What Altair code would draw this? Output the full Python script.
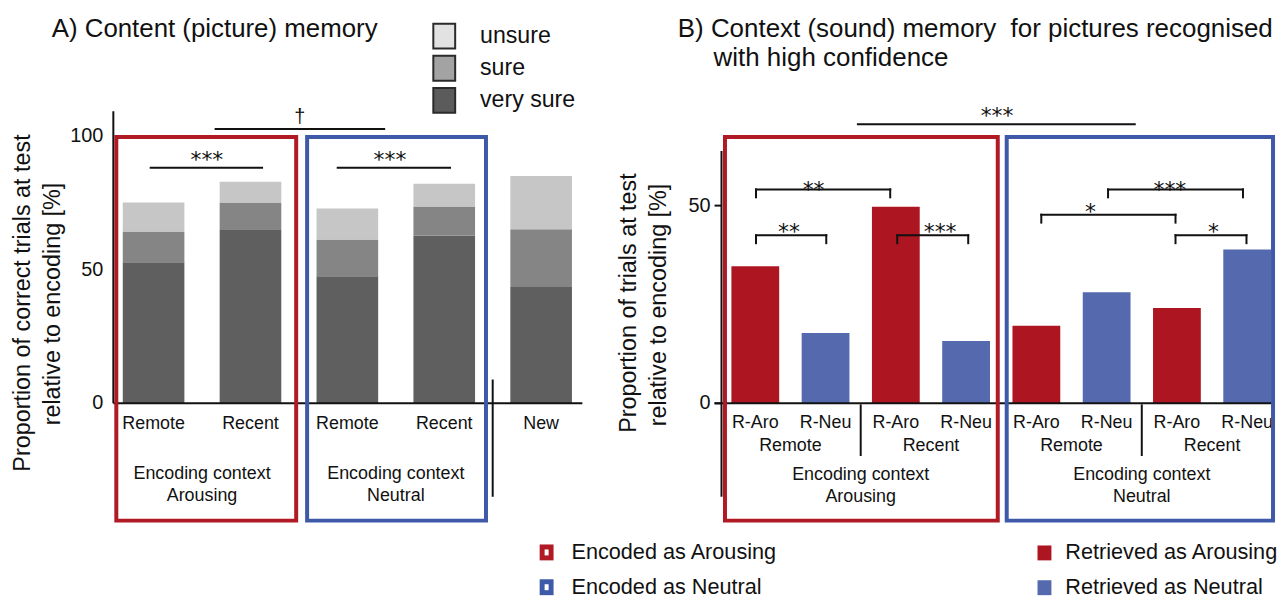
import altair as alt
import pandas as pd

# ---------------- data ----------------
# Panel A: content (picture) memory, stacked by confidence
a_positions = ["Remote", "Recent", "Remote", "Recent", "New"]
a_context = ["Arousing", "Arousing", "Neutral", "Neutral", ""]
conf_levels = ["unsure", "sure", "very sure"]
a_very_sure = [52.8, 65.1, 47.6, 62.8, 43.5]
a_sure = [11.5, 10.0, 13.7, 10.8, 21.6]
a_unsure = [10.8, 7.8, 11.6, 8.6, 20.0]
a_ticks = [0, 50, 100]

# Panel B: context (sound) memory
b_retrieved = ["R-Aro", "R-Neu", "R-Aro", "R-Neu", "R-Aro", "R-Neu", "R-Aro", "R-Neu"]
b_delay = ["Remote", "Remote", "Recent", "Recent", "Remote", "Remote", "Recent", "Recent"]
b_encoded = ["Arousing", "Arousing", "Arousing", "Arousing", "Neutral", "Neutral", "Neutral", "Neutral"]
b_values = [34.7, 17.8, 49.7, 15.8, 19.6, 28.1, 24.1, 38.9]
b_ticks = [0, 50]

# significance annotations: (from, to, level, label, label x, label centre)
a_sig = [(-0.04, 1.13, 88.1, "***", 0.55, 93.3),
         (1.89, 3.07, 88.1, "***", 2.44, 93.3)]
a_dagger = (0.63, 2.39, 102.6, "\u2020", 1.51, 104.8)
b_sig = [(0.01, 1.92, 54.1, "**", 0.83, 55.5),
         (0.01, 1.01, 42.5, "**", 0.48, 44.7),
         (2.02, 3.03, 42.5, "***", 2.63, 44.7),
         (4.07, 5.98, 47.7, "*", 4.77, 50.0),
         (5.02, 6.94, 54.1, "***", 5.90, 55.5),
         (5.98, 6.99, 42.5, "*", 6.52, 44.7)]
b_top_sig = (1.46, 5.40, 70.6, "***", 3.44, 74.1)

# ---------------- styling ----------------
FONT = "Liberation Sans"
STAR_FONT = "DejaVu Sans"
INK = "#111111"
conf_colors = ["#c6c6c6", "#858585", "#5f5f5f"]
legend_conf_colors = ["#e2e2e2", "#a3a3a3", "#5b5b5b"]
RED_BAR, BLUE_BAR = "#ad1520", "#5569ae"
RED_BOX, BLUE_BOX = "#b01a25", "#3f59a9"


def px(x):
    return x - 8


def py(y):
    return y - 8


xA = alt.Scale(domain=[0, 4], range=[px(154.5), px(544.5)], nice=False, zero=False)
yA = alt.Scale(domain=[0, 100], range=[py(404), py(135)], nice=False, zero=False)
xB = alt.Scale(domain=[0, 7], range=[px(760), px(1255)], nice=False, zero=False)
yB = alt.Scale(domain=[0, 50], range=[py(404), py(205)], nice=False, zero=False)

one = pd.DataFrame({"k": [0]})


def ptext(txt, x, y, size, align="left", baseline="alphabetic", angle=None, font=FONT):
    kw = dict(text=txt, align=align, baseline=baseline, fontSize=size, font=font, color=INK)
    if angle is not None:
        kw["angle"] = angle
    return alt.Chart(one).mark_text(**kw).encode(x=alt.value(px(x)), y=alt.value(py(y)))


def prect(x1, y1, x2, y2, fill=None, stroke=None, sw=0):
    kw = {}
    if fill is not None:
        kw["fill"] = fill
    else:
        kw["fillOpacity"] = 0
    if stroke is not None:
        kw["stroke"] = stroke
        kw["strokeWidth"] = sw
    return alt.Chart(one).mark_rect(**kw).encode(
        x=alt.value(px(x1)), x2=alt.value(px(x2)), y=alt.value(py(y1)), y2=alt.value(py(y2)))


def prule(x1, y1, x2, y2, sw=2, color=INK):
    return alt.Chart(one).mark_rule(strokeWidth=sw, color=color).encode(
        x=alt.value(px(x1)), x2=alt.value(px(x2)), y=alt.value(py(y1)), y2=alt.value(py(y2)))


# ---------------- panel A ----------------
rowsA = []
for i in range(len(a_positions)):
    for lvl, vals, o in (("very sure", a_very_sure, 0), ("sure", a_sure, 1), ("unsure", a_unsure, 2)):
        rowsA.append({"pos": i, "level": lvl, "value": vals[i], "ord": o})
dfA = pd.DataFrame(rowsA)

barsA = alt.Chart(dfA).transform_stack(
    stack="value", groupby=["pos"], as_=["y0", "y1"], sort=[alt.SortField("ord")]
).transform_calculate(xl="datum.pos - 0.318", xr="datum.pos + 0.318").mark_rect().encode(
    x=alt.X("xl:Q", scale=xA, axis=None), x2="xr:Q",
    y=alt.Y("y0:Q", scale=yA, axis=None), y2="y1:Q",
    color=alt.Color("level:N", scale=alt.Scale(domain=conf_levels, range=conf_colors), legend=None),
)

tickA = alt.Chart(pd.DataFrame({"v": a_ticks})).mark_text(
    align="right", baseline="middle", fontSize=20, font=FONT, color=INK
).encode(x=alt.value(px(104)), y=alt.Y("v:Q", scale=yA, axis=None), text=alt.Text("v:Q"))

labA = alt.Chart(pd.DataFrame({"pos": list(range(len(a_positions))), "label": a_positions})).mark_text(
    baseline="middle", fontSize=18, font=FONT, color=INK
).encode(x=alt.X("pos:Q", scale=xA, axis=None), y=alt.value(py(425)), text="label:N")

ctxA = pd.DataFrame({"pos": list(range(len(a_context))), "ctx": a_context})
ctxA = ctxA[ctxA.ctx != ""].groupby("ctx", as_index=False)["pos"].mean()
ctxA1 = alt.Chart(ctxA).mark_text(text="Encoding context", baseline="middle", fontSize=18, font=FONT, color=INK).encode(
    x=alt.X("pos:Q", scale=xA, axis=None), y=alt.value(py(475)))
ctxA2 = alt.Chart(ctxA).mark_text(baseline="middle", fontSize=18, font=FONT, color=INK).encode(
    x=alt.X("pos:Q", scale=xA, axis=None), y=alt.value(py(497)), text="ctx:N")

sigA = pd.DataFrame([{"x1": s[0], "x2": s[1], "y": s[2], "label": s[3], "lx": s[4], "ly": s[5]} for s in a_sig])
sigA_lines = alt.Chart(sigA).mark_rule(strokeWidth=2, color=INK).encode(
    x=alt.X("x1:Q", scale=xA, axis=None), x2="x2:Q", y=alt.Y("y:Q", scale=yA, axis=None))
sigA_text = alt.Chart(sigA).mark_text(baseline="alphabetic", dy=13, fontSize=22, font=STAR_FONT, color=INK).encode(
    x=alt.X("lx:Q", scale=xA, axis=None), y=alt.Y("ly:Q", scale=yA, axis=None), text="label:N")
dagA = pd.DataFrame([{"x1": a_dagger[0], "x2": a_dagger[1], "y": a_dagger[2], "label": a_dagger[3],
                      "lx": a_dagger[4], "ly": a_dagger[5]}])
dag_line = alt.Chart(dagA).mark_rule(strokeWidth=2, color=INK).encode(
    x=alt.X("x1:Q", scale=xA, axis=None), x2="x2:Q", y=alt.Y("y:Q", scale=yA, axis=None))
dag_text = alt.Chart(dagA).mark_text(baseline="alphabetic", fontSize=20, font=FONT, color=INK).encode(
    x=alt.X("lx:Q", scale=xA, axis=None), y=alt.Y("ly:Q", scale=yA, axis=None), text="label:N")

sepA = alt.Chart(pd.DataFrame({"x": [3.5]})).mark_rule(strokeWidth=2, color=INK).encode(
    x=alt.X("x:Q", scale=xA, axis=None), y=alt.value(py(380)), y2=alt.value(py(498)))

panelA = alt.layer(barsA, tickA, labA, ctxA1, ctxA2, sigA_lines, sigA_text, dag_line, dag_text, sepA)

# ---------------- panel B ----------------
dfB = pd.DataFrame({"pos": list(range(len(b_values))), "ret": b_retrieved, "delay": b_delay,
                    "enc": b_encoded, "value": b_values})
barsB = alt.Chart(dfB).transform_calculate(
    xl="datum.pos - 0.34", xr="datum.pos + 0.34", zero="0"
).mark_rect().encode(
    x=alt.X("xl:Q", scale=xB, axis=None), x2="xr:Q",
    y=alt.Y("value:Q", scale=yB, axis=None), y2="zero:Q",
    color=alt.Color("ret:N", scale=alt.Scale(domain=["R-Aro", "R-Neu"], range=[RED_BAR, BLUE_BAR]), legend=None),
)

tickB_lab = alt.Chart(pd.DataFrame({"v": b_ticks})).mark_text(
    align="right", baseline="middle", fontSize=20, font=FONT, color=INK
).encode(x=alt.value(px(715)), y=alt.Y("v:Q", scale=yB, axis=None), text=alt.Text("v:Q"))
tickB_mark = alt.Chart(pd.DataFrame({"v": b_ticks})).mark_rule(strokeWidth=2, color=INK).encode(
    x=alt.value(px(719)), x2=alt.value(px(726)), y=alt.Y("v:Q", scale=yB, axis=None))

labB = alt.Chart(dfB).mark_text(baseline="middle", fontSize=18, font=FONT, color=INK).encode(
    x=alt.X("pos:Q", scale=xB, axis=None), y=alt.value(py(424)), text="ret:N")
delayB = dfB.groupby(["enc", "delay"], as_index=False)["pos"].mean()
labB2 = alt.Chart(delayB).mark_text(baseline="middle", fontSize=18, font=FONT, color=INK).encode(
    x=alt.X("pos:Q", scale=xB, axis=None), y=alt.value(py(447)), text="delay:N")
encB = dfB.groupby("enc", as_index=False)["pos"].mean()
labB3 = alt.Chart(encB).mark_text(text="Encoding context", baseline="middle", fontSize=18, font=FONT, color=INK).encode(
    x=alt.X("pos:Q", scale=xB, axis=None), y=alt.value(py(476)))
labB4 = alt.Chart(encB).mark_text(baseline="middle", fontSize=18, font=FONT, color=INK).encode(
    x=alt.X("pos:Q", scale=xB, axis=None), y=alt.value(py(498)), text="enc:N")
sepB = alt.Chart(pd.DataFrame({"x": [1.5, 5.5]})).mark_rule(strokeWidth=2, color=INK).encode(
    x=alt.X("x:Q", scale=xB, axis=None), y=alt.value(py(405)), y2=alt.value(py(457)))

DROP = 2.0
segs = []
for s in b_sig:
    segs.append({"x1": s[0], "x2": s[1], "y1": s[2], "y2": s[2]})
    segs.append({"x1": s[0], "x2": s[0], "y1": s[2], "y2": s[2] - DROP})
    segs.append({"x1": s[1], "x2": s[1], "y1": s[2], "y2": s[2] - DROP})
segs.append({"x1": b_top_sig[0], "x2": b_top_sig[1], "y1": b_top_sig[2], "y2": b_top_sig[2]})
sigB_lines = alt.Chart(pd.DataFrame(segs)).mark_rule(strokeWidth=2, color=INK, strokeCap="square").encode(
    x=alt.X("x1:Q", scale=xB, axis=None), x2="x2:Q",
    y=alt.Y("y1:Q", scale=yB, axis=None), y2="y2:Q")
sigB_lab = pd.DataFrame([{"label": s[3], "lx": s[4], "ly": s[5]} for s in b_sig + [b_top_sig]])
sigB_text = alt.Chart(sigB_lab).mark_text(baseline="alphabetic", dy=13, fontSize=22, font=STAR_FONT, color=INK).encode(
    x=alt.X("lx:Q", scale=xB, axis=None), y=alt.Y("ly:Q", scale=yB, axis=None), text="label:N")

panelB = alt.layer(barsB, tickB_lab, tickB_mark, labB, labB2, labB3, labB4, sepB, sigB_lines, sigB_text)

# ---------------- frames, axes lines, titles, legends ----------------
overlay = [
    # axis lines
    prule(114, 110, 114, 404), prule(114, 404, 586, 404),
    prule(726, 150, 726, 498), prule(719, 404, 1283, 404),
    # encoding-context frames
    prect(117, 136, 298, 522, stroke=RED_BOX, sw=4),
    prect(309, 136, 489, 522, stroke=BLUE_BOX, sw=4),
    prect(729.5, 136, 1004, 522, stroke=RED_BOX, sw=4),
    prect(1013, 136, 1281, 522, stroke=BLUE_BOX, sw=4),
    # titles
    ptext("A) Content (picture) memory", 52, 35, 26),
    ptext("B) Context (sound) memory\u00a0 for pictures recognised", 682, 35, 26.1),
    ptext("with high confidence", 718, 65, 26.1),
    # y-axis titles
    ptext("Proportion of correct trials at test", 23, 303, 23.5, align="center", baseline="middle", angle=270),
    ptext("relative to encoding [%]", 53, 304, 23.5, align="center", baseline="middle", angle=270),
    ptext("Proportion of trials at test", 633, 303, 23.5, align="center", baseline="middle", angle=270),
    ptext("relative to encoding [%]", 663, 305, 23.5, align="center", baseline="middle", angle=270),
]

# confidence legend (panel A)
for i, (lvl, col) in enumerate(zip(conf_levels, legend_conf_colors)):
    top = 22 + i * 32.3
    overlay.append(prect(436, top, 458, top + 25, fill=col, stroke="#2a2a2a", sw=2))
    overlay.append(ptext(lvl, 483, 41 + i * 32.5, 23.3))

# bottom legends
enc_legend = [("Encoded as Arousing", RED_BOX), ("Encoded as Neutral", BLUE_BOX)]
ret_legend = [("Retrieved as Arousing", RED_BAR), ("Retrieved as Neutral", BLUE_BAR)]
for i, (lab, col) in enumerate(enc_legend):
    top = 546 + i * 35
    overlay.append(prect(543, top, 557, top + 16, fill=col))
    overlay.append(prect(548, top + 5, 552, top + 11, fill="white"))
    overlay.append(ptext(lab, 575, 554 + i * 35, 21.8, baseline="middle"))
for i, (lab, col) in enumerate(ret_legend):
    top = 547 + i * 35
    overlay.append(prect(1044, top, 1058, top + 15, fill=col))
    overlay.append(ptext(lab, 1072, 554 + i * 35, 21.8, baseline="middle"))

chart = alt.layer(panelA, panelB, *overlay).resolve_scale(
    x="independent", y="independent", color="independent"
).properties(
    width=1277, height=590, padding=0,
    autosize=alt.AutoSizeParams(type="none"),
).configure_view(stroke=None)

chart.save("out.html", embed_options={"renderer": "svg", "actions": False})
